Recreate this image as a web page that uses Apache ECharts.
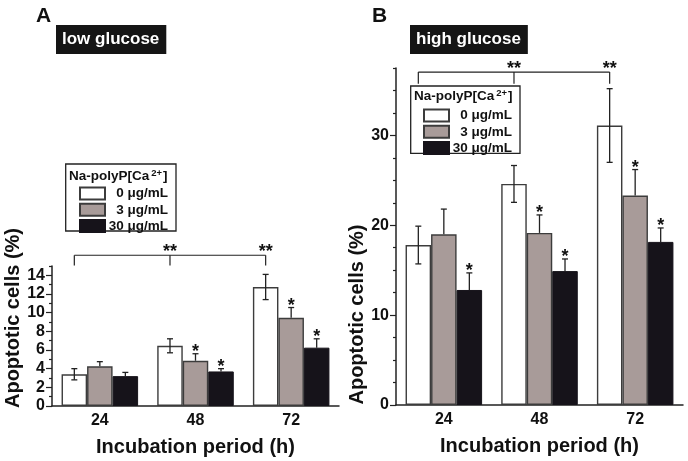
<!DOCTYPE html>
<html>
<head>
<meta charset="utf-8">
<script src="https://cdn.jsdelivr.net/npm/echarts@6/dist/echarts.min.js"></script>
<style>html,body{margin:0;padding:0;background:#fff}#c{width:688px;height:461px}</style>
</head>
<body>
<div id="c"></div>
<script>
// ---- data ----
const categories = ['24', '48', '72'];
const seriesNames = ['0 μg/mL', '3 μg/mL', '30 μg/mL'];

const lowMean0 = [3.4, 6.45, 12.75];
const lowErr0 = [0.6, 0.75, 1.35];
const lowMean3 = [4.25, 4.85, 9.45];
const lowErr3 = [0.5, 0.75, 1.1];
const lowMean30 = [3.2, 3.7, 6.25];
const lowErr30 = [0.4, 0.3, 0.95];
const lowStar0 = [0, 0, 0];
const lowStar3 = [0, 1, 1];
const lowStar30 = [0, 1, 1];

const highMean0 = [17.8, 24.6, 31.1];
const highErr0 = [2.1, 2.05, 4.1];
const highMean3 = [19.0, 19.15, 23.3];
const highErr3 = [2.8, 2.0, 2.9];
const highMean30 = [12.8, 14.9, 18.15];
const highErr30 = [1.9, 1.35, 1.55];
const highStar0 = [0, 0, 0];
const highStar3 = [0, 1, 1];
const highStar30 = [1, 1, 1];

// bracket: [line level, foot level] in data units
const lowBracket = [16.15, 15.05];
const highBracket = [37.05, 35.75];

const lowMajorTicks = [0, 2, 4, 6, 8, 10, 12, 14];
const lowMinorTicks = [1, 3, 5, 7, 9, 11, 13, 15];
const highMajorTicks = [0, 10, 20, 30];
const highMinorTicks = [2.5, 5, 7.5, 12.5, 15, 17.5, 22.5, 25, 27.5, 32.5, 35, 37.5];
const lowMax = 15;
const highMax = 37.5;

// ---- styles ----
const FONT = '"Liberation Sans", Arial, sans-serif';
const INK = '#111';
const barStyles = [
  { color: '#ffffff', borderColor: '#3c3c3c', borderWidth: 1.4 },
  { color: '#a89b99', borderColor: '#3c3c3c', borderWidth: 1.4 },
  { color: '#16131a', borderColor: '#16131a', borderWidth: 1 }
];
const CAT_GAP = 0.2;

function barWidthOf(api) {
  return api.size([1, 0])[0] * (1 - CAT_GAP) / 3;
}

function errRender(params, api) {
  const cat = api.value(0), s = api.value(1), mean = api.value(2), err = api.value(3), star = api.value(4);
  const bw = barWidthOf(api);
  const x = api.coord([cat, mean])[0] + (s - 1) * bw;
  const yTop = api.coord([cat, mean + err])[1];
  const yMid = api.coord([cat, mean])[1];
  const yBot = api.coord([cat, mean - err])[1];
  const st = { stroke: '#222', lineWidth: 1.3 };
  const ch = [
    { type: 'line', shape: { x1: x, y1: yTop, x2: x, y2: s === 0 ? yBot : yMid }, style: st },
    { type: 'line', shape: { x1: x - 3, y1: yTop, x2: x + 3, y2: yTop }, style: st }
  ];
  if (s === 0) ch.push({ type: 'line', shape: { x1: x - 3, y1: yBot, x2: x + 3, y2: yBot }, style: st });
  if (star) ch.push({ type: 'text', style: { text: '*', x: x, y: yTop - 2, align: 'center', verticalAlign: 'middle', font: 'bold 18px ' + FONT, fill: INK } });
  return { type: 'group', children: ch };
}

function makeBracketRender(levels) {
  return function (params, api) {
    const bw = barWidthOf(api);
    const yL = api.coord([0, levels[0]])[1];
    const yF = api.coord([0, levels[1]])[1];
    const xs = [0, 1, 2].map(i => api.coord([i, 0])[0] - bw);
    const st = { stroke: '#222', lineWidth: 1.2 };
    const ch = [{ type: 'line', shape: { x1: xs[0], y1: yL, x2: xs[2], y2: yL }, style: st }];
    xs.forEach(x => ch.push({ type: 'line', shape: { x1: x, y1: yL, x2: x, y2: yF }, style: st }));
    [xs[1], xs[2]].forEach(x => ch.push({ type: 'text', style: { text: '**', x: x, y: yL - 3, align: 'center', verticalAlign: 'middle', font: 'bold 18px ' + FONT, fill: INK } }));
    return { type: 'group', children: ch };
  };
}

function errData(means, errs, stars) {
  const d = [];
  means.forEach((m, s) => m.forEach((v, i) => d.push([i, s, v, errs[s][i], stars[s][i]])));
  return d;
}

function xAxisFor(gi) {
  return {
    type: 'category', gridIndex: gi, data: categories,
    axisLine: { lineStyle: { color: '#222', width: 1.5 } },
    axisTick: { alignWithLabel: true, length: 4, lineStyle: { color: '#222', width: 1.2 } },
    axisLabel: { margin: 7, fontSize: 16, fontWeight: 'bold', fontFamily: FONT, color: INK },
    name: 'Incubation period (h)', nameLocation: 'middle', nameGap: 31,
    nameTextStyle: { fontSize: 20, fontWeight: 'bold', fontFamily: FONT, color: INK }
  };
}
function yAxisMain(gi, max, ticks, shift) {
  return {
    type: 'value', gridIndex: gi, min: 0, max: max,
    axisLine: { show: true, lineStyle: { color: '#222', width: 1.5 } },
    axisTick: { show: true, customValues: ticks, length: 6, lineStyle: { color: '#222', width: 1.2 } },
    axisLabel: { customValues: ticks, margin: 7, fontSize: 16, fontWeight: 'bold', fontFamily: FONT, color: INK },
    splitLine: { show: false },
    name: 'Apoptotic cells (%)', nameLocation: 'middle', nameRotate: 90, nameGap: 23,
    nameTextStyle: { fontSize: 20, fontWeight: 'bold', fontFamily: FONT, color: INK, padding: shift }
  };
}
function yAxisMinor(gi, max, ticks) {
  return {
    type: 'value', gridIndex: gi, min: 0, max: max, position: 'left',
    axisLine: { show: false },
    axisTick: { show: true, customValues: ticks, length: 3, lineStyle: { color: '#222', width: 1.2 } },
    axisLabel: { show: false }, splitLine: { show: false }
  };
}

const lowMeans = [lowMean0, lowMean3, lowMean30];
const lowErrs = [lowErr0, lowErr3, lowErr30];
const lowStars = [lowStar0, lowStar3, lowStar30];
const highMeans = [highMean0, highMean3, highMean30];
const highErrs = [highErr0, highErr3, highErr30];
const highStars = [highStar0, highStar3, highStar30];

const series = [];
[[lowMeans, 0, 0], [highMeans, 1, 2]].forEach(([means, xi, yi]) => {
  means.forEach((m, s) => series.push({
    type: 'bar', name: seriesNames[s], xAxisIndex: xi, yAxisIndex: yi, data: m,
    barGap: '0%', barCategoryGap: (CAT_GAP * 100) + '%', itemStyle: barStyles[s], z: 2
  }));
});
series.push({ type: 'custom', xAxisIndex: 0, yAxisIndex: 0, data: errData(lowMeans, lowErrs, lowStars), renderItem: errRender, encode: { x: 0, y: 2 }, z: 5, clip: false });
series.push({ type: 'custom', xAxisIndex: 1, yAxisIndex: 2, data: errData(highMeans, highErrs, highStars), renderItem: errRender, encode: { x: 0, y: 2 }, z: 5, clip: false });
series.push({ type: 'custom', xAxisIndex: 0, yAxisIndex: 0, data: [[0, lowBracket[0]]], renderItem: makeBracketRender(lowBracket), encode: { x: 0, y: 1 }, z: 5, clip: false });
series.push({ type: 'custom', xAxisIndex: 1, yAxisIndex: 2, data: [[0, highBracket[0]]], renderItem: makeBracketRender(highBracket), encode: { x: 0, y: 1 }, z: 5, clip: false });

function legendFor(left, top) {
  return {
    data: seriesNames, orient: 'vertical', left: left, top: top, padding: 0,
    itemWidth: 25, itemHeight: 12, itemGap: 2.3, icon: 'rect', selectedMode: false,
    formatter: n => '{a|' + n + '}',
    textStyle: { rich: { a: { width: 58, align: 'right', fontSize: 13.5, fontWeight: 'bold', fontFamily: FONT, color: INK, lineHeight: 12 } } }
  };
}

function legendGraphics(bx, by, bw, bh, tx, ty) {
  return [
    { type: 'rect', shape: { x: bx, y: by, width: bw, height: bh }, style: { fill: '#fff', stroke: '#222', lineWidth: 1.3 }, z: 1 },
    { type: 'text', x: tx, y: ty, z: 2, style: {
      text: 'Na-polyP[Ca{s|2+}]', verticalAlign: 'middle',
      font: 'bold 13.5px ' + FONT, fill: INK,
      rich: { s: { fontSize: 9.5, fontWeight: 'bold', fontFamily: FONT, verticalAlign: 'top', padding: [0, 1, 7, 2] } }
    } }
  ];
}

function boxTitle(text, left) {
  return {
    text: text, left: left, top: 25, padding: [5, 7, 5, 6], backgroundColor: '#151515',
    textStyle: { color: '#fff', fontSize: 17, fontWeight: 'bold', fontFamily: FONT, lineHeight: 19 }
  };
}
function panelLetter(text, left) {
  return { text: text, left: left, top: 6, padding: 0, textStyle: { color: INK, fontSize: 21, fontWeight: 'bold', fontFamily: FONT } };
}

const option = {
  animation: false,
  backgroundColor: '#fff',
  title: [panelLetter('A', 36), panelLetter('B', 372), boxTitle('low glucose', 56), boxTitle('high glucose', 410)],
  grid: [
    { left: 52, top: 266, width: 287, height: 140 },
    { left: 396, top: 68, width: 287, height: 338 }
  ],
  xAxis: [xAxisFor(0), xAxisFor(1)],
  yAxis: [
    yAxisMain(0, lowMax, lowMajorTicks, [0, 0, 0, 36]),
    yAxisMinor(0, lowMax, lowMinorTicks),
    yAxisMain(1, highMax, highMajorTicks, [0, 156, 0, 0]),
    yAxisMinor(1, highMax, highMinorTicks)
  ],
  legend: [legendFor(79, 186.5), legendFor(423, 108.5)],
  graphic: legendGraphics(65.7, 164, 110.3, 67, 69, 176.7).concat(legendGraphics(410.7, 86, 109.3, 67.3, 414, 96.7)),
  series: series
};

const chart = echarts.init(document.getElementById('c'), null, { renderer: 'canvas' });
chart.setOption(option);
</script>
</body>
</html>
